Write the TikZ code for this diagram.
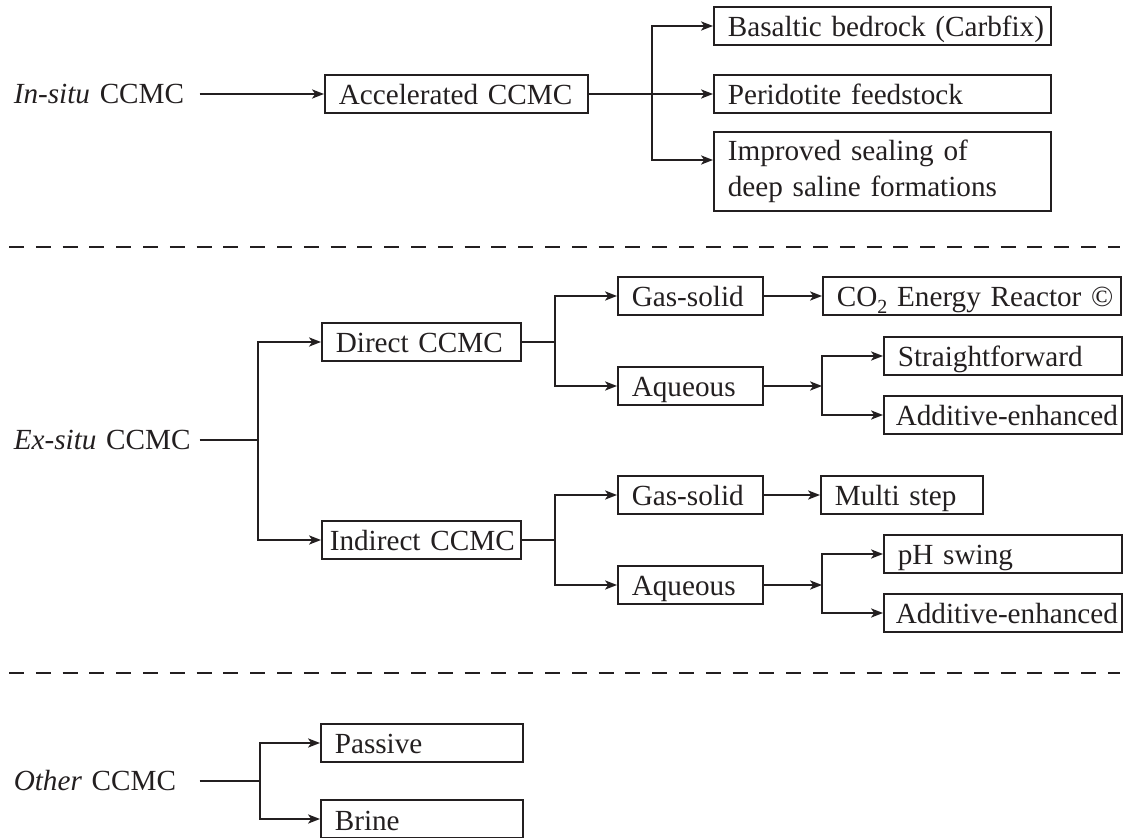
\documentclass[tikz,border=0pt]{standalone}
\usepackage{fontspec}
\setmainfont{Liberation Serif}
\usetikzlibrary{arrows.meta}
\definecolor{ink}{RGB}{35,31,32}

\begin{document}
\begin{tikzpicture}[x=0.5pt, y=-0.5pt, line width=0.8pt, draw=ink, text=ink,
  box/.style={draw=ink, anchor=west, align=left, inner xsep=7pt, inner ysep=2pt,
    text height=12pt, text depth=1pt,
    minimum height=19pt, font=\fontsize{14.6}{18}\selectfont},
  lbl/.style={anchor=west, inner sep=0pt, text width=92.5pt, align=left,
    font=\fontsize{14.6}{18}\selectfont},
  arr/.style={-{Stealth[length=6pt,width=4.6pt,inset=1.6pt]}},
  sep/.style={line width=1pt, dash pattern=on 7.5pt off 5.9pt}]

\useasboundingbox (0,0) rectangle (1124,838);

% in-situ
\node[lbl] (insitu) at (13,94) {\textit{In-situ} CCMC};
\node[box, text width=117.5pt] (acc) at (324,94) {\mbox{Accelerated CCMC}};
\node[box, text width=154.5pt] (bas) at (713,26) {\mbox{Basaltic bedrock (Carbfix)}};
\node[box, text width=154.5pt] (peri) at (713,94) {Peridotite feedstock};
\node[box, text width=154.5pt, text height=, text depth=, minimum height=39.5pt] (seal) at (713,171.5) {Improved sealing of\\deep saline formations};

\draw[arr] (insitu) -- (acc);
\coordinate (jacc) at (652,94);
\draw (acc) -- (jacc);
\draw[arr] (jacc) |- (bas);
\draw[arr] (jacc) -- (peri);
\draw[arr] (jacc) |- ([yshift=5.75pt]seal.west);

\draw[sep] (9,247) -- (1120,247);

% ex-situ
\node[lbl] (exsitu) at (13,440) {\textit{Ex-situ} CCMC};
\node[box, text width=85.5pt] (dir) at (321,342) {Direct CCMC};
\node[box, inner xsep=4pt, text width=91.5pt] (ind) at (321,540) {\mbox{Indirect CCMC}};

\coordinate (jex) at (258,440);
\draw (exsitu) -- (jex);
\draw[arr] (jex) |- (dir);
\draw[arr] (jex) |- (ind);

% direct
\node[box, text width=58.5pt] (dgas) at (617,296) {Gas-solid};
\node[box, text width=58.5pt] (daq) at (617,386) {Aqueous};
\node[box, text width=135pt] (reac) at (822,296) {\mbox{CO\raisebox{-3.2pt}{\fontsize{10}{10}\selectfont 2} Energy Reactor ©}};
\node[box, text width=105pt] (straight) at (883,356) {\mbox{Straightforward}};
\node[box, inner xsep=6pt, text width=107pt] (dadd) at (883,415) {\mbox{Additive-enhanced}};

\coordinate (jdir) at (555,342);
\draw (dir) -- (jdir);
\draw[arr] (jdir) |- (dgas);
\draw[arr] (jdir) |- (daq);
\draw[arr] (dgas) -- (reac);
\coordinate (jdaq) at (822,386);
\draw[arr] (daq) -- (jdaq);
\draw[arr] (jdaq) |- (straight);
\draw[arr] (jdaq) |- (dadd);

% indirect
\node[box, text width=58.5pt] (igas) at (617,495) {Gas-solid};
\node[box, text width=58.5pt] (iaq) at (617,585) {Aqueous};
\node[box, text width=67pt] (multi) at (820,495) {Multi step};
\node[box, text width=105pt] (ph) at (883,554) {pH swing};
\node[box, inner xsep=6pt, text width=107pt] (iadd) at (883,613) {\mbox{Additive-enhanced}};

\coordinate (jind) at (555,540);
\draw (ind) -- (jind);
\draw[arr] (jind) |- (igas);
\draw[arr] (jind) |- (iaq);
\draw[arr] (igas) -- (multi);
\coordinate (jiaq) at (822,585);
\draw[arr] (iaq) -- (jiaq);
\draw[arr] (jiaq) |- (ph);
\draw[arr] (jiaq) |- (iadd);

\draw[sep] (9,673) -- (1120,673);

% other
\node[lbl] (other) at (13,781) {\textit{Other} CCMC};
\node[box, text width=87pt] (pass) at (320,743) {Passive};
\node[box, text width=87pt] (brine) at (320,819) {Brine};

\coordinate (joth) at (260,781);
\draw (other) -- (joth);
\draw[arr] (joth) |- (pass);
\draw[arr] (joth) |- (brine);

\end{tikzpicture}
\end{document}
